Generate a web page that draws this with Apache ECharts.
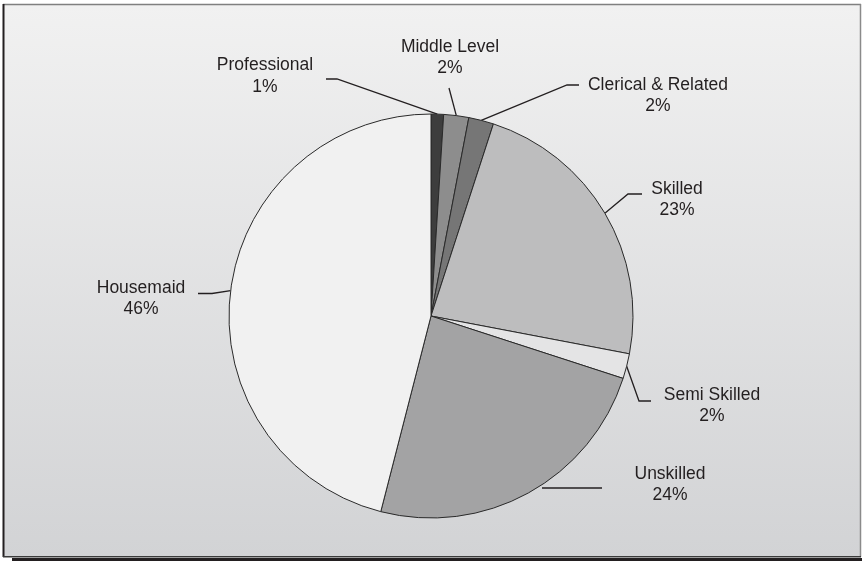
<!DOCTYPE html>
<html>
<head>
<meta charset="utf-8">
<script src="https://cdn.jsdelivr.net/npm/echarts@6/dist/echarts.min.js"></script>
<style>html,body{margin:0;padding:0;background:#fff;}#c{width:862px;height:561px;}</style>
</head>
<body>
<div id="c"></div>
<script>
// ---- data ----
var categories = ['Professional', 'Middle Level', 'Clerical & Related', 'Skilled', 'Semi Skilled', 'Unskilled', 'Housemaid'];
var shares = [1, 2, 2, 23, 2, 24, 46];
var sliceColors = ['#3d3d3d', '#8d8d8d', '#767676', '#bdbdbe', '#e4e4e5', '#a3a3a4', '#f1f1f1'];

// ---- label layout (label centre, guide offsets relative to label centre) ----
var labelCenters = [[265, 76], [450, 57.5], [658, 95.5], [677, 199.5], [712, 405.5], [670, 484.5], [141, 298.5]];
// [dx2, dy2, dx1, dy1] : p2 = near label, p1 = elbow
var guideOffsets = [
  [61, 3, 72, 3],
  [-1, 30.5, -1, 30.5],
  [-79, -10.5, -91, -10.5],
  [-35, -5.5, -49, -5.5],
  [-61, -4.5, -73, -4.5],
  [-68, 3.5, -128, 3.5],
  [57, -5, 71, -5]
];
var startAtElbow = [false, false, false, false, false, true, false];

var chart = echarts.init(document.getElementById('c'), null, {renderer: 'canvas'});
var data = categories.map(function (n, i) {
  return {name: n, value: shares[i], itemStyle: {color: sliceColors[i]}};
});

chart.setOption({
  animation: false,
  graphic: [
    {type: 'rect', z: -10, shape: {x: 4, y: 5, width: 856, height: 551},
     style: {fill: new echarts.graphic.LinearGradient(0, 0, 0, 1, [
       {offset: 0, color: '#f1f1f1'}, {offset: 1, color: '#d2d3d5'}])}},
    {type: 'rect', z: -9, shape: {x: 12, y: 558, width: 850, height: 3}, style: {fill: '#231f20'}},
    {type: 'line', z: -8, shape: {x1: 3, y1: 4.5, x2: 861, y2: 4.5}, style: {stroke: '#808080', lineWidth: 1.5}},
    {type: 'line', z: -8, shape: {x1: 860.5, y1: 4, x2: 860.5, y2: 557}, style: {stroke: '#8a8a8a', lineWidth: 1.5}},
    {type: 'line', z: -8, shape: {x1: 3.5, y1: 4, x2: 3.5, y2: 557}, style: {stroke: '#231f20', lineWidth: 2}},
    {type: 'line', z: -8, shape: {x1: 3, y1: 556.8, x2: 861, y2: 556.8}, style: {stroke: '#3a3a3a', lineWidth: 1.5}}
  ],
  series: [{
    type: 'pie',
    center: [431, 316],
    radius: 202,
    startAngle: 90,
    clockwise: true,
    avoidLabelOverlap: false,
    silent: true,
    data: data,
    itemStyle: {borderColor: '#2a2a2a', borderWidth: 1},
    label: {
      show: true,
      position: 'outside',
      formatter: '{b}\n{d}%',
      fontFamily: '"Liberation Sans", Arial, sans-serif',
      fontSize: 17.5,
      lineHeight: 21.5,
      color: '#231f20'
    },
    labelLine: {show: true, length: 10, length2: 10, smooth: false,
      lineStyle: {color: '#231f20', width: 1.3}},
    labelLayout: function (params) {
      var i = params.dataIndex;
      var c = labelCenters[i];
      var g = guideOffsets[i];
      var p0 = params.labelLinePoints ? params.labelLinePoints[0] : [c[0], c[1]];
      var p2 = [c[0] + g[0], c[1] + g[1]];
      var p1 = [c[0] + g[2], c[1] + g[3]];
      if (startAtElbow[i]) { p0 = p1; }
      return {
        x: c[0], y: c[1], align: 'center', verticalAlign: 'middle',
        labelLinePoints: [p0, p1, p2]
      };
    }
  }]
});
</script>
</body>
</html>
